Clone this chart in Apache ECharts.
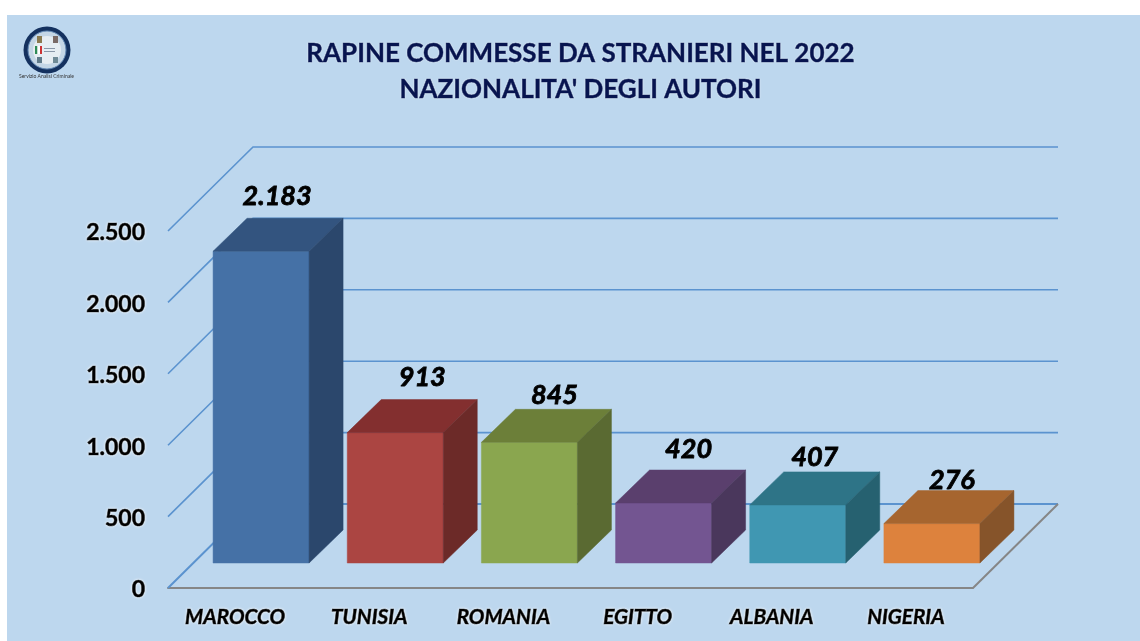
<!DOCTYPE html>
<html><head><meta charset="utf-8">
<style>html,body{margin:0;padding:0;background:#fff}#c{width:1140px;height:641px}</style>
<script src="https://cdn.jsdelivr.net/npm/echarts@6/dist/echarts.min.js"></script>
</head><body><div id="c"></div>
<script>
const categories = ['MAROCCO','TUNISIA','ROMANIA','EGITTO','ALBANIA','NIGERIA'];
const values = [2183,913,845,420,407,276];
const valueLabels = ['2.183','913','845','420','407','276'];
const yTicks = [0,500,1000,1500,2000,2500];
const titleLines = ['RAPINE COMMESSE DA STRANIERI NEL 2022',"NAZIONALITA' DEGLI AUTORI"];
const logoCaption = 'Servizio Analisi Criminale';

const frontColors = ['#4571a6','#ab4542','#8aa64f','#735591','#4097b2','#dd823d'];
const topColors = ['#33547f','#832f2f','#6c7f39','#5a3f6d','#2e7487','#a6652f'];
const sideColors = ['#2b476c','#6c2a28','#5a6a32','#4a375c','#266170','#86542a'];
const labelNudgeX = [-1,10,8,8,0,3];
const labelNudgeY = [1,1,9,2,8,13];

const FONT = 'Lato, "Open Sans", sans-serif';
const WALL = [85,-84], OFFSET = [26,-25], BOX = [34,-33], HALF = 48;
const LINE = '#5b93cf', FLOOR = '#868686';
const heavy = {textBorderColor:'#000',textBorderWidth:0.7,textShadowColor:'rgba(255,255,255,0.9)',textShadowBlur:3};

const chart = echarts.init(document.getElementById('c'));
chart.setOption({
  animation:false,
  backgroundColor:'#ffffff',
  graphic:[
    {type:'rect',z:-10,silent:true,shape:{x:7,y:15,width:1133,height:626},style:{fill:'#bdd7ee'}},
    {type:'circle',z:5,shape:{cx:47,cy:50,r:23.5},style:{fill:'#14315f'}},
    {type:'circle',z:5,shape:{cx:47,cy:50,r:19},style:{fill:'#c4d6e6',stroke:'#5f86b3',lineWidth:1}},
    {type:'circle',z:5,shape:{cx:47,cy:50,r:14},style:{fill:'#e6edf2'}},
    {type:'rect',z:6,shape:{x:35,y:46,width:2.5,height:8},style:{fill:'#2e8b57'}},
    {type:'rect',z:6,shape:{x:37.5,y:46,width:2.5,height:8},style:{fill:'#ffffff'}},
    {type:'rect',z:6,shape:{x:40,y:46,width:2,height:8},style:{fill:'#cc3333'}},
    {type:'rect',z:6,shape:{x:37,y:36,width:5,height:7},style:{fill:'#8a7a50'}},
    {type:'rect',z:6,shape:{x:53,y:36,width:5,height:7},style:{fill:'#7a6a66'}},
    {type:'rect',z:6,shape:{x:37,y:57,width:5,height:6},style:{fill:'#5f7a8a'}},
    {type:'rect',z:6,shape:{x:53,y:57,width:5,height:6},style:{fill:'#6f8a96'}},
    {type:'rect',z:6,shape:{x:44,y:48,width:11,height:1},style:{fill:'#8a97a8'}},
    {type:'rect',z:6,shape:{x:44,y:51,width:11,height:1},style:{fill:'#8a97a8'}},
    {type:'text',z:6,style:{x:46.5,y:76,text:logoCaption,align:'center',verticalAlign:'middle',font:'5px '+FONT,fill:'#333'}}
  ],
  title:{
    text:titleLines.join('\n'),left:575.5,top:31,textAlign:'center',
    textStyle:{fontFamily:FONT,fontWeight:'bold',fontSize:26,lineHeight:36,color:'#07144f',
      textBorderColor:'#07144f',textBorderWidth:0.5,textShadowColor:'rgba(255,255,255,0.6)',textShadowBlur:2}
  },
  grid:{left:168,right:167,top:231,bottom:53},
  xAxis:{type:'category',data:categories,
    axisLine:{show:true,lineStyle:{color:FLOOR,width:2}},axisTick:{show:false},
    axisLabel:{margin:19,color:'#000',fontFamily:FONT,fontWeight:'bold',fontStyle:'italic',fontSize:20.7,...heavy}},
  yAxis:{type:'value',min:0,max:2500,interval:500,
    axisLine:{show:false},axisTick:{show:false},splitLine:{show:false},
    axisLabel:{margin:23,color:'#000',fontFamily:FONT,fontWeight:'bold',fontSize:23,lineHeight:4,verticalAlign:'top',
      verticalAlignMinLabel:'top',verticalAlignMaxLabel:'top',...heavy,
      formatter:v=>v>=1000?String(v).replace(/(\d)(\d{3})$/,'$1.$2'):String(v)}},
  series:[
    {type:'custom',z:1,coordinateSystem:'cartesian2d',silent:true,
     data:yTicks.map(v=>[0,v]),encode:{x:0,y:1},
     renderItem(p,api){
       const v=api.value(1);
       const s=api.coord([0,v]), band=api.size([1,0])[0];
       const x0=s[0]-band/2, y0=s[1];
       const x1=x0+band*6;
       return {type:'polyline',shape:{points:[[x0,y0],[x0+WALL[0],y0+WALL[1]],[x1+WALL[0],y0+WALL[1]]]},
         style:{stroke:LINE,lineWidth:v===0?2:1.6,fill:null}};
     }},
    {type:'custom',z:2,coordinateSystem:'cartesian2d',silent:true,
     data:[[5,0]],encode:{x:0,y:1},
     renderItem(p,api){
       const s=api.coord([5,0]), band=api.size([1,0])[0];
       const x=s[0]+band/2;
       return {type:'polyline',shape:{points:[[x,s[1]],[x+WALL[0],s[1]+WALL[1]]]},style:{stroke:FLOOR,lineWidth:2,fill:null}};
     }},
    {type:'custom',z:3,coordinateSystem:'cartesian2d',silent:true,
     data:values.map((v,i)=>[i,v]),encode:{x:0,y:1},
     renderItem(p,api){
       const i=api.value(0), v=api.value(1);
       const b=api.coord([i,0]), t=api.coord([i,v]);
       const L=b[0]+OFFSET[0]-HALF, R=b[0]+OFFSET[0]+HALF;
       const B=b[1]+OFFSET[1], T=t[1]+OFFSET[1];
       const [dx,dy]=BOX;
       const poly=(pts,fill)=>({type:'polygon',shape:{points:pts},style:{fill,stroke:fill,lineWidth:.5}});
       return {type:'group',children:[
         poly([[L,T],[R,T],[R,B],[L,B]],frontColors[i]),
         poly([[L,T],[L+dx,T+dy],[R+dx,T+dy],[R,T]],topColors[i]),
         poly([[R,T],[R+dx,T+dy],[R+dx,B+dy],[R,B]],sideColors[i]),
         {type:'text',style:{x:L+dx/2+HALF+labelNudgeX[i],y:T+dy-23+labelNudgeY[i],text:valueLabels[i],align:'center',verticalAlign:'middle',
           fontFamily:FONT,fontWeight:'bold',fontStyle:'italic',fontSize:27,fill:'#000',stroke:'#000',lineWidth:0.8,
           shadowColor:'rgba(255,255,255,0.9)',shadowBlur:3}}
       ]};
     }}
  ]
});
</script></body></html>
